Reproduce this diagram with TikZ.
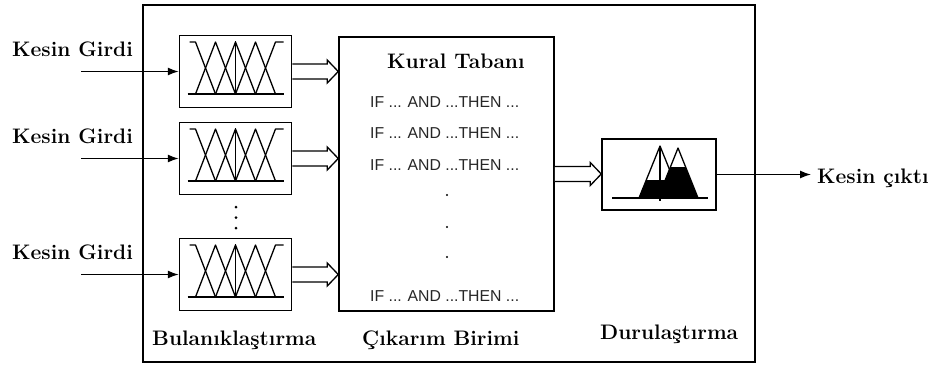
\documentclass[tikz,border=0pt]{standalone}
\usepackage{fontspec}
\newfontfamily\rulefont{Liberation Sans}
\usetikzlibrary{arrows.meta,calc}
\tikzset{
  box/.style={draw,line width=1.5pt,inner sep=0pt},
  lbl/.style={font=\fontsize{21}{25}\selectfont\bfseries,inner sep=0pt,anchor=base west},
  rulet/.style={font=\rulefont\fontsize{15.8}{18}\selectfont,text=black!85,inner sep=0pt,anchor=base west},
  inarrow/.style={line width=1.3pt,-{Latex[length=11pt,width=8pt]}},
  mf/.style={line width=1.3pt,line join=round},
  hollow/.style={line width=1.3pt,fill=white,line join=miter},
  mfpic/.pic={
    \draw[mf] (-48,22.5) -- (48,22.5);
    \draw[mf] (-46,-29.5) -- (-40,-29.5) -- (-20,22.5);
    \draw[mf] (-40,22.5) -- (-20,-29.5) -- (0,22.5);
    \draw[mf] (-20,22.5) -- (0,-29.5) -- (20,22.5);
    \draw[mf] (0,22.5) -- (20,-29.5) -- (40,22.5);
    \draw[mf] (20,22.5) -- (40,-29.5) -- (48,-29.5);
    \draw[mf] (0,22.5) -- (0,-31);
  }
}
\newcommand\hollowarr[2]{%
  \path (#1) coordinate (hs) (#2) coordinate (ht);
  \draw[hollow] ($(hs)+(0,-7.5)$) -- ($(ht)+(-11,-7.5)$) -- ($(ht)+(-11,-11.5)$) -- (ht)
     -- ($(ht)+(-11,11.5)$) -- ($(ht)+(-11,7.5)$) -- ($(hs)+(0,7.5)$);
}
\begin{document}
\begin{tikzpicture}[x=1pt,y=-1pt]
\useasboundingbox (0,0) rectangle (936,365);
\draw[line width=1.5pt] (143,5) rectangle (755,362);

% fuzzification boxes
\node[box,minimum width=112pt,minimum height=72pt] (f1) at (235.5,71.5) {};
\node[box,minimum width=112pt,minimum height=72pt] (f2) at (235.5,158.5) {};
\node[box,minimum width=112pt,minimum height=72pt] (f3) at (235.5,274.5) {};
\pic at (f1.center) {mfpic};
\pic at (f2.center) {mfpic};
\pic at (f3.center) {mfpic};

% rule base
\node[box,minimum width=215pt,minimum height=274pt] (rb) at (446.5,174) {};
\node[lbl] (kt) at (387,68) {Kural Tabanı};
\node[rulet] (r1) at (370,107) {IF ... AND ...THEN ...};
\node[rulet] (r2) at (370,138) {IF ... AND ...THEN ...};
\node[rulet] (r3) at (370,170) {IF ... AND ...THEN ...};
\node[rulet] (r4) at (370,301.5) {IF ... AND ...THEN ...};
\fill (447,195) circle (1.2pt);
\fill (447,227) circle (1.2pt);
\fill (447,257) circle (1.2pt);

% dots between fuzzifiers
\fill (236,207) circle (1.5pt);
\fill (236,217.5) circle (1.5pt);
\fill (236,228) circle (1.5pt);

% defuzzification box
\node[box,minimum width=114pt,minimum height=71pt] (df) at (659,174.5) {};
\begin{scope}[shift={(df.center)}]
  \begin{scope}
    \clip (-30,5.5) rectangle (30,30);
    \fill (-20,23.5) -- (1,-28.5) -- (22,23.5) -- cycle;
  \end{scope}
  \begin{scope}
    \clip (-10,-7.5) rectangle (45,30);
    \fill (-1,23.5) -- (19,-26.5) -- (39,23.5) -- cycle;
  \end{scope}
  \draw[mf] (-20,23.5) -- (1,-28.5) -- (22,23.5);
  \draw[mf] (-1,23.5) -- (19,-26.5) -- (39,23.5);
  \draw[mf] (1,-28.5) -- (1,26);
  \draw[mf] (-47,23.5) -- (49,23.5);
\end{scope}

% hollow arrows
\hollowarr{f1.east}{rb.west |- f1.east}
\hollowarr{f2.east}{rb.west |- f2.east}
\hollowarr{f3.east}{rb.west |- f3.east}
\hollowarr{rb.east}{df.west |- rb.east}

% inputs
\node[lbl] (k1) at (12,56.5) {Kesin Girdi};
\node[lbl] (k2) at (12,143.5) {Kesin Girdi};
\node[lbl] (k3) at (12,259.5) {Kesin Girdi};
\coordinate (i1) at (81,71.5);
\coordinate (i2) at (81,158.5);
\coordinate (i3) at (81,274.5);
\draw[inarrow] (i1) -- (f1.west);
\draw[inarrow] (i2) -- (f2.west);
\draw[inarrow] (i3) -- (f3.west);

% output
\node[lbl] (out) at (817,183) {Kesin çıktı};
\draw[inarrow,shorten >=6pt] (df.east) -- (df.east -| out.west);

% bottom labels
\node[lbl] (bl) at (152,345) {Bulanıklaştırma};
\node[lbl] (ci) at (362,345) {Çıkarım Birimi};
\node[lbl] (du) at (600,339) {Durulaştırma};
\end{tikzpicture}
\end{document}
